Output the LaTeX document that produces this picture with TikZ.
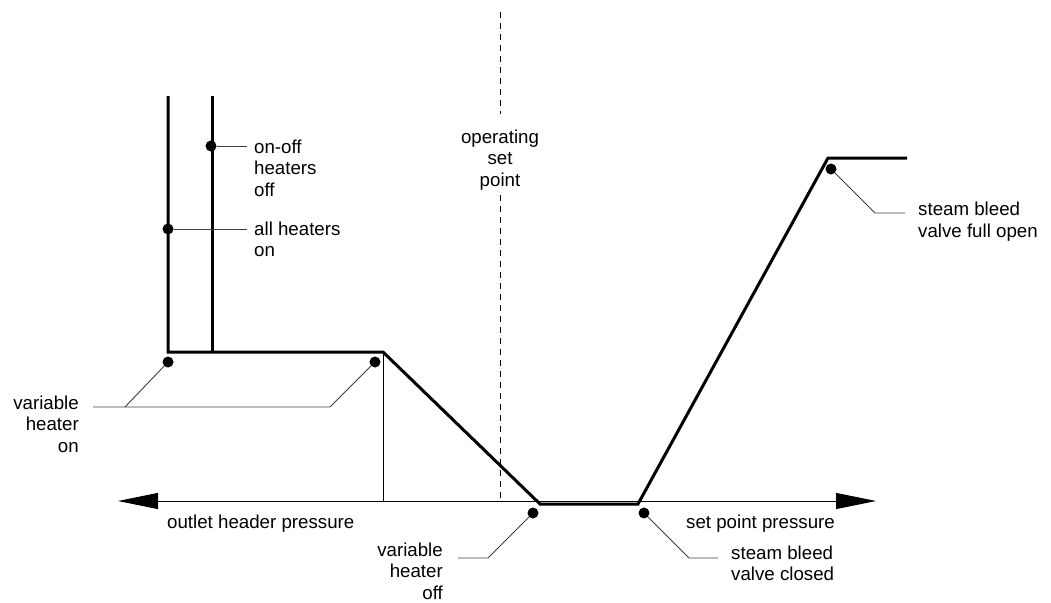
\documentclass[tikz,border=0pt]{standalone}
\usepackage{fontspec}
\setmainfont{Liberation Sans}
\usetikzlibrary{arrows.meta}
\begin{document}
\begin{tikzpicture}[x=1pt,y=-1pt,
  curve/.style={line width=3pt,line join=miter},
  thin line/.style={line width=1pt},
  leader/.style={line width=0.9pt,draw=black!75},
  pt/.style={circle,fill=black,inner sep=0pt,minimum size=11pt},
  lbl/.style={inner sep=0pt,font=\fontsize{18.7}{21.5}\selectfont},
  axisarrow/.style={-{Triangle[length=40pt,width=16pt]}}]
\useasboundingbox (0,0) rectangle (1051,602);

% pressure axis with arrowheads on both ends
\coordinate (axm) at (500,501);
\coordinate (axl) at (118,501);
\coordinate (axr) at (876,501);
\draw[thin line,axisarrow] (axm) -- (axl);
\draw[thin line,axisarrow] (axm) -- (axr);

% operating set point marker
\coordinate (dtop) at (500,12);
\coordinate (dmid1) at (500,114);
\coordinate (dmid2) at (500,195);
\coordinate (dbot) at (500,501);
\draw[thin line,dash pattern=on 6pt off 5pt] (dtop) -- (dmid1);
\draw[thin line,dash pattern=on 6pt off 5pt] (dmid2) -- (dbot);
% multi-line labels are anchored on the baseline of their last line
\node[lbl,align=center,anchor=base] (osp) at (500,186) {operating\\set\\point};

% heater characteristic
\coordinate (h1t) at (168,96);
\coordinate (h1b) at (168,352);
\coordinate (h2t) at (212,96);
\coordinate (h2b) at (212,352);
\coordinate (knee) at (383,352);
\coordinate (vlo) at (540,504);
\coordinate (vhi) at (638,504);
\coordinate (top) at (828,158);
\coordinate (topend) at (907,158);
\draw[curve] (h1t) -- (h1b) -- (knee) -- (vlo) -- (vhi) -- (top) -- (topend);
\draw[curve] (h2t) -- (h2b);
\coordinate (kneefoot) at (383,501);
\draw[thin line] (knee) -- (kneefoot);

% axis labels
\node[lbl,anchor=base west] (ohp) at (167,528) {outlet header pressure};
\node[lbl,anchor=base west] (spp) at (686,528) {set point pressure};

% on-off heaters off
\node[pt] (d1) at (211,146) {};
\coordinate (l1) at (247,146);
\draw[leader] (d1) -- (l1);
\node[lbl,align=left,anchor=base west] (t1) at (254,196) {on-off\\heaters\\off};

% all heaters on
\node[pt] (d2) at (168,229) {};
\coordinate (l2) at (247,229);
\draw[leader] (d2) -- (l2);
\node[lbl,align=left,anchor=base west] (t2) at (254,256.5) {all heaters\\on};

% variable heater on
\node[pt] (d3) at (168,362) {};
\node[pt] (d4) at (375,362) {};
\coordinate (l3a) at (93,407);
\coordinate (l3b) at (125,407);
\coordinate (l3c) at (330,407);
\draw[leader] (d3) -- (l3b);
\draw[leader] (l3a) -- (l3c) -- (d4);
\node[lbl,align=right,anchor=base east] (t3) at (79,452) {variable\\heater\\on};

% variable heater off
\node[pt] (d5) at (533,513) {};
\coordinate (l5a) at (488,558);
\coordinate (l5b) at (458,558);
\draw[leader] (d5) -- (l5a) -- (l5b);
\node[lbl,align=right,anchor=base east] (t5) at (443,599) {variable\\heater\\off};

% steam bleed valve closed
\node[pt] (d6) at (644,513) {};
\coordinate (l6a) at (689,558);
\coordinate (l6b) at (718,558);
\draw[leader] (d6) -- (l6a) -- (l6b);
\node[lbl,align=left,anchor=base west] (t6) at (731,580.5) {steam bleed\\valve closed};

% steam bleed valve full open
\node[pt] (d7) at (831,169) {};
\coordinate (l7a) at (875,213);
\coordinate (l7b) at (905,213);
\draw[leader] (d7) -- (l7a) -- (l7b);
\node[lbl,align=left,anchor=base west] (t7) at (918,237) {steam bleed\\valve full open};
\end{tikzpicture}
\end{document}
